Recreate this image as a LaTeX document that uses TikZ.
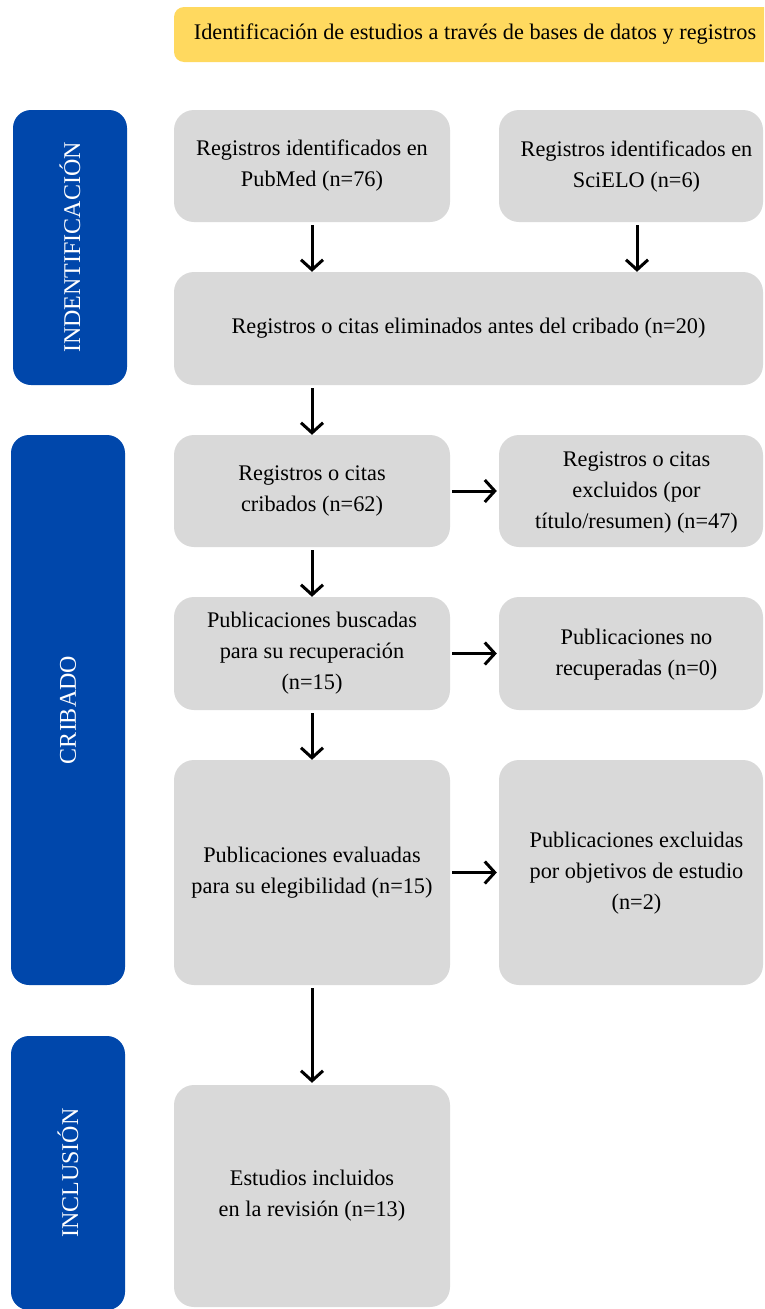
\documentclass[tikz,border=0pt]{standalone}
\usepackage{fontspec}
\setmainfont{Liberation Serif}
\usetikzlibrary{arrows.meta}
\definecolor{gbox}{HTML}{D9D9D9}
\definecolor{bluebox}{HTML}{0047AB}
\definecolor{goldbox}{HTML}{FFD95F}
\newcommand{\rtext}[1]{\hspace*{11pt}\begin{tabular}{@{}c@{}}#1\end{tabular}}
\begin{document}
\begin{tikzpicture}[x=1pt,y=-1pt,
  font=\fontsize{22.3}{31}\selectfont,
  graybox/.style={fill=gbox, rounded corners=20pt, align=center, inner sep=0pt, minimum width=276pt},
  rightbox/.style={graybox, minimum width=264pt},
  sidebox/.style={fill=bluebox, rounded corners=18pt, rotate=90, text=white, inner sep=0pt, minimum height=114pt, font=\fontsize{24}{28}\selectfont},
  banner/.style={fill=goldbox, rounded corners=10pt, inner sep=0pt, minimum width=602pt, minimum height=55pt},
  flow/.style={line width=3pt, -{Straight Barb[length=10pt,width=22pt]}}
]
\useasboundingbox (0,0) rectangle (764,1309);
\clip (0,0) rectangle (764,1309);

% banner
\node[banner] (ban) at (475,34.5) {Identificación de estudios a través de bases de datos y registros};

% side labels
\node[sidebox, minimum width=275pt] (sid) at (70,247.5) {INDENTIFICACIÓN};
\node[sidebox, minimum width=550pt] (sic) at (68,710) {CRIBADO};
\node[sidebox, minimum width=274pt] (sii) at (68,1173) {INCLUSIÓN};

% boxes
\node[graybox, minimum height=112pt] (pub) at (312,166) {Registros identificados en\\PubMed (n=76)};
\node[rightbox, minimum height=112pt] (sci) at (631,166) {\rtext{Registros identificados en\\SciELO (n=6)}};
\node[graybox, minimum width=589pt, minimum height=113pt] (elim) at (468.5,328.5) {Registros o citas eliminados antes del cribado (n=20)};
\node[graybox, minimum height=112pt] (crib) at (312,491) {Registros o citas\\cribados (n=62)};
\node[rightbox, minimum height=112pt] (excl) at (631,491) {\rtext{Registros o citas\\excluidos (por\\título/resumen) (n=47)}};
\node[graybox, minimum height=113pt] (busc) at (312,653.5) {Publicaciones buscadas\\para su recuperación\\(n=15)};
\node[rightbox, minimum height=113pt] (norec) at (631,653.5) {\rtext{Publicaciones no\\recuperadas (n=0)}};
\node[graybox, minimum height=225pt] (eval) at (312,872.5) {Publicaciones evaluadas\\para su elegibilidad (n=15)};
\node[rightbox, minimum height=225pt] (obj) at (631,872.5) {\rtext{Publicaciones excluidas\\por objetivos de estudio\\(n=2)}};
\node[graybox, minimum height=222pt] (incl) at (312,1196) {Estudios incluidos\\en la revisión (n=13)};

% connectors
\draw[flow, shorten <=3pt] (pub.south) -- (pub.south |- elim.north);
\draw[flow, shorten <=3pt] (sci.south -| 637,0) -- (637,0 |- elim.north);
\draw[flow, shorten <=3pt] (elim.south -| pub.south) -- (crib.north);
\draw[flow, shorten <=3pt] (crib.south) -- (busc.north);
\draw[flow, shorten <=2pt, shorten >=2pt] (crib.east) -- (excl.west);
\draw[flow, shorten <=3pt] (busc.south) -- (eval.north);
\draw[flow, shorten <=2pt, shorten >=2pt] (busc.east) -- (norec.west);
\draw[flow, shorten <=2pt, shorten >=2pt] (eval.east) -- (obj.west);
\draw[flow, shorten <=3pt, shorten >=2pt] (eval.south) -- (incl.north);
\end{tikzpicture}
\end{document}
